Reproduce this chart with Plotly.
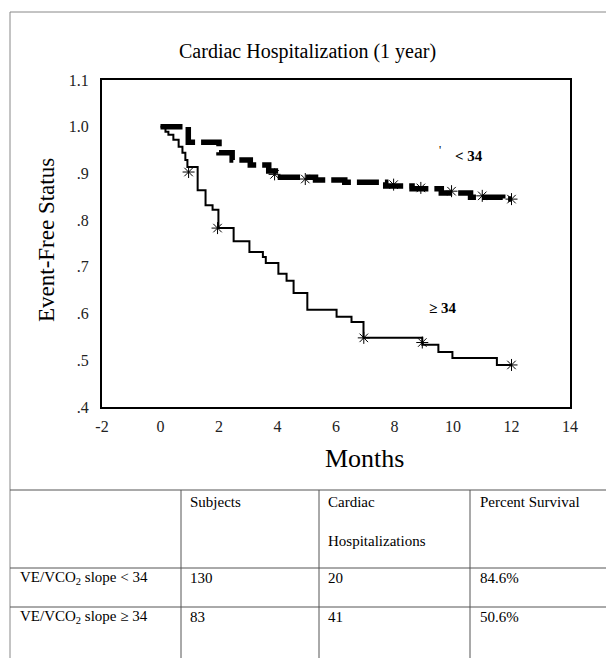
import plotly.graph_objects as go

# ---- data ----
lt34_months = [0, 0.95, 2.0, 2.45, 3.07, 3.7, 4.1, 5.3, 6.3, 7.7, 8.6, 9.6, 10.6, 11.7, 12.0]
lt34_surv = [1.0, 0.967, 0.944, 0.929, 0.918, 0.905, 0.892, 0.886, 0.881, 0.873, 0.867, 0.858, 0.849, 0.845, 0.845]
lt34_cens_months = [3.9, 4.95, 7.97, 8.9, 9.95, 11.0, 12.0]
lt34_cens_surv = [0.898, 0.888, 0.876, 0.869, 0.862, 0.852, 0.845]

ge34_months = [0, 0.17, 0.27, 0.44, 0.62, 0.75, 0.85, 0.92, 1.27, 1.54, 1.78, 1.98, 2.5, 3.04,
               3.5, 3.6, 4.03, 4.31, 4.55, 5.02, 6.02, 6.53, 6.94, 8.95, 9.5, 9.98, 11.5, 12.0]
ge34_surv = [1.0, 0.989, 0.983, 0.972, 0.957, 0.944, 0.929, 0.914, 0.864, 0.832, 0.822, 0.783, 0.755, 0.732,
             0.721, 0.708, 0.685, 0.670, 0.644, 0.608, 0.593, 0.582, 0.548, 0.533, 0.518, 0.505, 0.490, 0.490]
ge34_cens_months = [0.96, 1.95, 6.95, 8.95, 12.0]
ge34_cens_surv = [0.903, 0.783, 0.548, 0.538, 0.490]

x_tickvals = [-2, 0, 2, 4, 6, 8, 10, 12, 14]
x_ticktext = ["-2", "0", "2", "4", "6", "8", "10", "12", "14"]
y_tickvals = [0.4, 0.5, 0.6, 0.7, 0.8, 0.9, 1.0, 1.1]
y_ticktext = [".4", ".5", ".6", ".7", ".8", ".9", "1.0", "1.1"]

table_header = ["", "Subjects", "Cardiac<br><br>Hospitalizations", "Percent Survival"]
table_rows = [
    ["VE/VCO<sub>2</sub> slope < 34", "130", "20", "84.6%"],
    ["VE/VCO<sub>2</sub> slope ≥ 34", "83", "41", "50.6%"],
]

SERIF = "Liberation Serif"
PAGE_W, PAGE_H = 614, 658
OFF = 8  # default page body margin
L, R, T, B = 102, 570, 80, 407  # plot area in page pixels


def px(x):
    return (x - L) / (R - L)


def py(y):
    return (B - y) / (B - T)


fig = go.Figure()
fig.add_trace(go.Scatter(x=lt34_months, y=lt34_surv, mode="lines", line_shape="hv",
                         line=dict(color="black", width=5.5, dash="22px,6px"), showlegend=False))
fig.add_trace(go.Scatter(x=ge34_months, y=ge34_surv, mode="lines", line_shape="hv",
                         line=dict(color="black", width=2), showlegend=False))
for cm, cs in [(lt34_cens_months, lt34_cens_surv), (ge34_cens_months, ge34_cens_surv)]:
    fig.add_trace(go.Scatter(x=cm, y=cs, mode="markers",
                             marker=dict(symbol="asterisk-open", size=10, color="black",
                                         line=dict(color="black", width=1)),
                             showlegend=False))

ann = []
ann.append(dict(x=10.55, y=0.937, xref="x", yref="y", text="<b>< 34</b>", showarrow=False,
                xanchor="center", yanchor="middle",
                font=dict(family=SERIF, size=15, color="black")))
ann.append(dict(x=9.57, y=0.95, xref="x", yref="y", text="'", showarrow=False,
                xanchor="center", yanchor="middle",
                font=dict(family=SERIF, size=12, color="black")))
ann.append(dict(x=9.64, y=0.612, xref="x", yref="y", text="<b>≥ 34</b>", showarrow=False,
                xanchor="center", yanchor="middle",
                font=dict(family=SERIF, size=15, color="black")))
# titles
ann.append(dict(x=px(307), y=py(52), xref="paper", yref="paper", text="Cardiac Hospitalization (1 year)",
                xanchor="center", yanchor="middle",
                showarrow=False, font=dict(family=SERIF, size=20, color="black")))
ann.append(dict(x=px(46), y=py(240), xref="paper", yref="paper", text="Event-Free Status", textangle=-90,
                xanchor="center", yanchor="middle",
                showarrow=False, font=dict(family=SERIF, size=23, color="black")))
ann.append(dict(x=px(364), y=py(458), xref="paper", yref="paper", text="Months",
                xanchor="center", yanchor="middle",
                showarrow=False, font=dict(family=SERIF, size=26, color="black")))

# table text
col_x = [18, 188, 326, 478]
for i, t in enumerate(table_header):
    if not t:
        continue
    ann.append(dict(x=px(col_x[i]), y=py(492), xref="paper", yref="paper", text=t, align="left",
                    xanchor="left", yanchor="top", showarrow=False,
                    font=dict(family=SERIF, size=15, color="black")))
row_y = [578, 617]
for r, row in enumerate(table_rows):
    for i, t in enumerate(row):
        ann.append(dict(x=px(col_x[i]), y=py(row_y[r]), xref="paper", yref="paper", text=t,
                        xanchor="left", yanchor="middle", showarrow=False,
                        font=dict(family=SERIF, size=15, color="black")))

shapes = []
gline = dict(color="#888", width=1)
# outer border
shapes.append(dict(type="line", xref="paper", yref="paper", x0=px(10), x1=px(614), y0=py(12), y1=py(12), line=gline))
shapes.append(dict(type="line", xref="paper", yref="paper", x0=px(10), x1=px(10), y0=py(12), y1=py(660), line=gline))
# table lines
for yy in [490, 568, 607]:
    shapes.append(dict(type="line", xref="paper", yref="paper", x0=px(10), x1=px(614), y0=py(yy), y1=py(yy),
                       line=dict(color="#555", width=1)))
for xx in [181, 319, 470]:
    shapes.append(dict(type="line", xref="paper", yref="paper", x0=px(xx), x1=px(xx), y0=py(490), y1=py(660),
                       line=dict(color="#555", width=1)))

fig.update_layout(
    width=PAGE_W - OFF, height=PAGE_H - OFF,
    margin=dict(l=L - OFF, r=PAGE_W - R, t=T - OFF, b=PAGE_H - B, pad=0),
    paper_bgcolor="white", plot_bgcolor="white",
    annotations=ann, shapes=shapes,
    xaxis=dict(range=[-2, 14], tickvals=x_tickvals, ticktext=x_ticktext, showgrid=False, zeroline=False,
               showline=True, mirror=True, linecolor="black", linewidth=2, ticks="",
               ticklabelstandoff=4, tickfont=dict(family=SERIF, size=16, color="#222")),
    yaxis=dict(range=[0.4, 1.1], tickvals=y_tickvals, ticktext=y_ticktext, showgrid=False, zeroline=False,
               showline=True, mirror=True, linecolor="black", linewidth=2, ticks="",
               ticklabelstandoff=8, tickfont=dict(family=SERIF, size=16, color="#222")),
)

fig.write_html("out.html")
